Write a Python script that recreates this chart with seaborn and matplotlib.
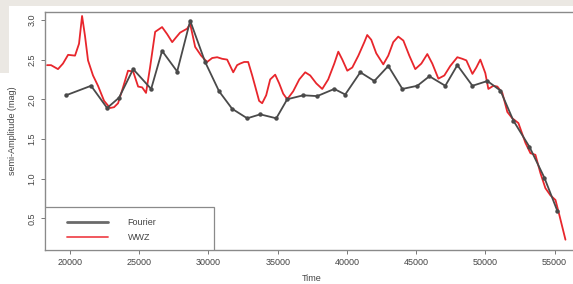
import numpy as np
import pandas as pd
import matplotlib
matplotlib.use("Agg")
import matplotlib.pyplot as plt
from matplotlib.patches import Rectangle
import seaborn as sns

# Fourier semi-amplitudes (points joined by a line)
fourier_time = [19710, 21520, 22680, 23540, 24560, 25860, 26650, 27740, 28680,
                29760, 30770, 31710, 32800, 33740, 34900, 35690, 36850, 37860,
                39090, 39880, 40970, 41980, 42990, 44010, 45090, 45960, 47110,
                47980, 49070, 50150, 51090, 52030, 53190, 54270, 55210]
fourier_amp = [2.05, 2.17, 1.89, 2.02, 2.38, 2.13, 2.61, 2.35, 2.99,
               2.47, 2.10, 1.88, 1.76, 1.81, 1.76, 2.00, 2.05, 2.04,
               2.13, 2.06, 2.34, 2.23, 2.42, 2.13, 2.17, 2.29, 2.17,
               2.43, 2.17, 2.23, 2.11, 1.73, 1.40, 1.01, 0.59]

# WWZ semi-amplitude curve
wwz_time = [18340, 18630, 19130, 19490, 19860, 20360, 20650, 20870, 21080, 21300,
            21660, 22020, 22460, 22890, 23180, 23470, 23830, 24190, 24560, 24920,
            25210, 25490, 25780, 26150, 26650, 27020, 27380, 27660, 27950, 28460,
            28680, 29040, 29470, 29900, 30270, 30630, 30990, 31350, 31790, 32070,
            32290, 32580, 32870, 33160, 33380, 33660, 33880, 34170, 34460, 34820,
            35110, 35400, 35690, 36120, 36560, 36990, 37350, 37790, 38220, 38650,
            39090, 39380, 39670, 40030, 40390, 40830, 41260, 41470, 41760, 42120,
            42630, 42990, 43350, 43710, 44080, 44510, 44940, 45380, 45810, 46170,
            46610, 47040, 47470, 47980, 48340, 48630, 49070, 49350, 49640, 50000,
            50220, 50580, 50870, 51230, 51590, 51950, 52390, 52900, 53260, 53620,
            53980, 54340, 54700, 55070, 55350, 55790]
wwz_amp = [2.43, 2.43, 2.38, 2.45, 2.56, 2.55, 2.70, 3.05, 2.80, 2.49,
           2.30, 2.17, 1.98, 1.89, 1.90, 1.95, 2.15, 2.36, 2.35, 2.16,
           2.15, 2.08, 2.40, 2.85, 2.91, 2.82, 2.72, 2.78, 2.84, 2.89,
           2.95, 2.66, 2.55, 2.47, 2.52, 2.53, 2.51, 2.50, 2.34, 2.43,
           2.45, 2.47, 2.47, 2.30, 2.16, 1.98, 1.95, 2.05, 2.25, 2.31,
           2.20, 2.07, 2.00, 2.10, 2.25, 2.34, 2.30, 2.20, 2.13, 2.25,
           2.45, 2.60, 2.50, 2.36, 2.40, 2.55, 2.72, 2.81, 2.75, 2.58,
           2.44, 2.55, 2.72, 2.79, 2.74, 2.55, 2.38, 2.45, 2.57, 2.45,
           2.26, 2.30, 2.42, 2.53, 2.51, 2.49, 2.32, 2.40, 2.50, 2.33,
           2.13, 2.17, 2.16, 2.08, 1.84, 1.76, 1.70, 1.45, 1.32, 1.30,
           1.07, 0.88, 0.79, 0.73, 0.54, 0.23]

x_ticks = [20000, 25000, 30000, 35000, 40000, 45000, 50000, 55000]
y_ticks = [0.5, 1.0, 1.5, 2.0, 2.5, 3.0]

fourier = pd.DataFrame({"time": fourier_time, "amp": fourier_amp})
wwz = pd.DataFrame({"time": wwz_time, "amp": wwz_amp})

sns.set_style("white")
plt.rcParams["font.family"] = ["Liberation Sans", "DejaVu Sans"]

fig = plt.figure(figsize=(5.73, 2.84), dpi=100)
fig.patch.set_facecolor("white")
# slide background peeking through at the top-left
fig.add_artist(Rectangle((0, 1 - 6 / 284), 1, 6 / 284, transform=fig.transFigure,
                         facecolor="#ebe8e3", edgecolor="none", zorder=0))
fig.add_artist(Rectangle((0, 1 - 73 / 284), 9 / 573, 73 / 284, transform=fig.transFigure,
                         facecolor="#ebe8e3", edgecolor="none", zorder=0))

ax = fig.add_axes([45 / 573, 34 / 284, 1 - 45 / 573 + 0.01, 238 / 284])

sns.lineplot(data=fourier, x="time", y="amp", ax=ax, color="#4a4a4a", lw=1.3,
             marker="o", markersize=3.2, markeredgewidth=0, label="Fourier",
             sort=False, zorder=3)
sns.lineplot(data=wwz, x="time", y="amp", ax=ax, color="#e8262c", lw=1.3,
             label="WWZ", sort=False, zorder=2)

ax.set_xlim(18192, 56367 + 0.01 * 38175)
ax.set_ylim(0.10, 3.10)
ax.set_xticks(x_ticks)
ax.set_xticklabels([str(t) for t in x_ticks])
ax.set_yticks(y_ticks)
ax.set_yticklabels([f"{v:.1f}" for v in y_ticks], rotation=90, va="center")
ax.tick_params(axis="both", which="major", length=3, width=0.7, color="#777777",
               labelsize=6.5, labelcolor="#444444", pad=3, direction="out")
ax.tick_params(left=True, bottom=True)
for side in ["left", "bottom", "top"]:
    ax.spines[side].set_color("#8a8a8a")
    ax.spines[side].set_linewidth(1.0)
ax.spines["right"].set_visible(False)

ax.set_xlabel("Time", fontsize=6.5, color="#444444", labelpad=5)
ax.set_ylabel("semi-Amplitude (mag)", fontsize=6.5, color="#444444", labelpad=8)

# legend: frame drawn separately, entries placed inside it
ax.add_patch(Rectangle((0, 0), 167 / 528, 43 / 238, transform=ax.transAxes,
                       facecolor="white", edgecolor="#8a8a8a", lw=0.9, zorder=4))
leg = ax.legend(loc="upper left", bbox_to_anchor=(22 / 528, (250 - 218) / 238),
                borderaxespad=0, borderpad=0, frameon=False,
                fontsize=6.5, handlelength=4.5, handletextpad=2.2,
                labelspacing=0.7)
leg.set_zorder(5)
for t in leg.get_texts():
    t.set_color("#444444")
lines = leg.get_lines()
for h in lines:
    h.set_marker("")
    h.set_linewidth(2.0)
lines[0].set_color("#6a6a6a")
lines[1].set_color("#f04a50")
lines[1].set_linewidth(1.3)

fig.savefig("out.png", dpi=100)
